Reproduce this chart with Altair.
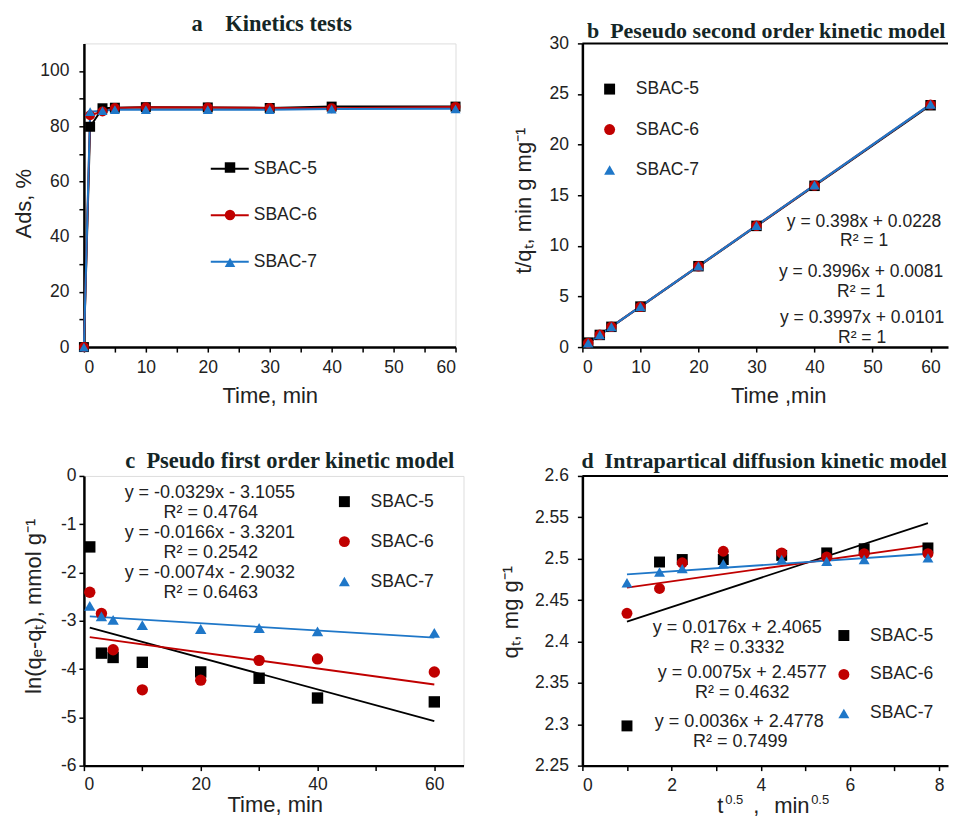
import altair as alt
import pandas as pd

SERIES = ["SBAC-5", "SBAC-6", "SBAC-7"]
COLORS = ["#000000", "#c00000", "#1f77c8"]
SHAPES = ["square", "circle", "triangle-up"]

# ---- (a) kinetics tests
T_A = [0, 1, 3, 5, 10, 20, 30, 40, 60]
ADS_5 = [0, 79.8, 86.5, 86.7, 86.9, 86.8, 86.6, 87.1, 87.1]
ADS_6 = [0, 84.0, 85.3, 86.6, 86.9, 86.8, 86.6, 86.5, 87.0]
ADS_7 = [0, 85.3, 85.6, 86.0, 86.0, 86.0, 86.0, 86.2, 86.3]

# ---- (b) pseudo second order
T_B = [1, 3, 5, 10, 20, 30, 40, 60]
TQ_5 = [0.44, 1.20, 2.00, 4.00, 7.99, 11.97, 15.93, 23.89]
TQ_6 = [0.41, 1.22, 2.00, 3.99, 7.98, 11.99, 15.96, 23.95]
TQ_7 = [0.40, 1.21, 2.01, 4.01, 8.01, 12.01, 16.01, 23.99]
FIT_T = [1, 60]
FIT_B_5 = [0.42, 23.90]
FIT_B_6 = [0.41, 23.98]
FIT_B_7 = [0.41, 23.99]
EQ_B = ["y = 0.398x + 0.0228", "R² = 1", "y = 0.3996x + 0.0081", "R² = 1",
        "y = 0.3997x + 0.0101", "R² = 1"]

# ---- (c) pseudo first order
LN_5 = [-1.47, -3.67, -3.76, -3.86, -4.06, -4.19, -4.60, -4.68]
LN_6 = [-2.41, -2.85, -3.60, -4.43, -4.23, -3.82, -3.79, -4.06]
LN_7 = [-2.69, -2.91, -2.98, -3.09, -3.17, -3.15, -3.22, -3.25]
FIT_C_5 = [-3.14, -5.08]
FIT_C_6 = [-3.34, -4.32]
FIT_C_7 = [-2.91, -3.35]
EQ_C = ["y = -0.0329x - 3.1055", "R² = 0.4764", "y = -0.0166x - 3.3201", "R² = 0.2542",
        "y = -0.0074x - 2.9032", "R² = 0.6463"]

# ---- (d) intraparticle diffusion
SQRT_T = [1.0, 1.73, 2.24, 3.16, 4.47, 5.48, 6.32, 7.75]
QT_5 = [2.298, 2.496, 2.499, 2.499, 2.504, 2.507, 2.512, 2.513]
QT_6 = [2.434, 2.464, 2.495, 2.509, 2.507, 2.502, 2.506, 2.506]
QT_7 = [2.471, 2.484, 2.488, 2.494, 2.499, 2.497, 2.499, 2.501]
FIT_SQRT_T = [1.0, 7.75]
FIT_D_5 = [2.424, 2.543]
FIT_D_6 = [2.465, 2.516]
FIT_D_7 = [2.481, 2.506]
EQ_D = ["y = 0.0176x + 2.4065", "R² = 0.3332", "y = 0.0075x + 2.4577", "R² = 0.4632",
        "y = 0.0036x + 2.4778", "R² = 0.7499"]

NB = "\u00a0"
TITLES = ["a" + NB * 3 + " Kinetics tests", "b" + NB + " Peseudo second order kinetic model",
          "c" + NB + " Pseudo first order kinetic model",
          "d" + NB + " Intrapartical diffusion kinetic model"]
D_XTITLE = ["t", "0.5", ",", "min", "0.5"]

TICKS_A_X = [0, 5, 10, 15, 20, 25, 30, 35, 40, 45, 50, 55, 60]
TICKS_A_Y = [0, 10, 20, 30, 40, 50, 60, 70, 80, 90, 100]
TICKS_B_X = [0, 10, 20, 30, 40, 50, 60]
TICKS_B_Y = [0, 5, 10, 15, 20, 25, 30]
TICKS_C_X = [0, 10, 20, 30, 40, 50, 60]
TICKS_C_Y = [-6, -5, -4, -3, -2, -1, 0]
TICKS_D_X = [0, 1, 2, 3, 4, 5, 6, 7, 8]
TICKS_D_Y = [2.25, 2.3, 2.35, 2.4, 2.45, 2.5, 2.55, 2.6]

FONT = "Liberation Sans"
SERIF = "Liberation Serif"
INK = "#222222"
TITLE_INK = "#142626"
ONE = pd.DataFrame({"k": [0]})


def long_df(xs, ys_list):
    rows = []
    for name, ys in zip(SERIES, ys_list):
        for xv, yv in zip(xs, ys):
            rows.append({"x": xv, "y": yv, "sample": name, "sample_l": name})
    return pd.DataFrame(rows)


def axis(title, values, label_expr, title_x, title_y, label_padding, vertical):
    kw = dict(values=values, labelExpr=label_expr, grid=False,
              domainColor="black", domainWidth=2.5, tickColor="black", tickWidth=1.5,
              tickSize=5, labelFont=FONT, labelFontSize=17.5, labelColor=INK,
              labelPadding=label_padding)
    if title is None:
        kw["title"] = None
    else:
        kw.update(title=title, titleFont=FONT, titleFontSize=22, titleFontWeight="normal",
                  titleColor=INK, titleX=title_x, titleY=title_y, titleBaseline="middle",
                  titleAlign="center")
        if vertical:
            kw["titleAngle"] = 270
    return alt.Axis(**kw)


def marker_legend(lx, ly, row_pad, size=120, label_expr="datum.label", label_offset=17.5):
    return alt.Legend(title=None, orient="none", legendX=lx, legendY=ly, padding=0,
                      labelFont=FONT, labelFontSize=17.5, labelColor=INK,
                      labelOffset=label_offset, rowPadding=row_pad, symbolSize=size,
                      symbolStrokeWidth=0, labelExpr=label_expr)


def enc_xy(x_dom, y_dom, x_axis, y_axis):
    x = alt.X("x:Q", scale=alt.Scale(domain=x_dom, nice=False, zero=False), axis=x_axis)
    y = alt.Y("y:Q", scale=alt.Scale(domain=y_dom, nice=False, zero=False), axis=y_axis)
    return x, y


def points(df, x, y, legend, size):
    return alt.Chart(df).mark_point(filled=True, size=size, opacity=1).encode(
        x=x, y=y,
        color=alt.Color("sample:N", scale=alt.Scale(domain=SERIES, range=COLORS), legend=legend),
        shape=alt.Shape("sample:N", scale=alt.Scale(domain=SERIES, range=SHAPES), legend=legend),
    )


def fit_lines(xs, ys_list, x, y, width=1.8):
    out = []
    for color, ys in zip(COLORS, ys_list):
        df = pd.DataFrame({"x": xs, "y": ys})
        out.append(alt.Chart(df).mark_line(color=color, strokeWidth=width).encode(x=x, y=y))
    return out


def label(text, px, py, size=18, align="center", baseline="middle"):
    return alt.Chart(ONE).mark_text(
        text=text, font=FONT, fontSize=size, color=INK, align=align, baseline=baseline
    ).encode(x=alt.value(px), y=alt.value(py))


def panel_title(text, px, py, size=22.5):
    return alt.Chart(ONE).mark_text(
        text=text, font=SERIF, fontSize=size, fontWeight="bold", color=TITLE_INK,
        align="center", baseline="alphabetic"
    ).encode(x=alt.value(px), y=alt.value(py))


def top_border(width):
    return alt.Chart(ONE).mark_rule(color="black", strokeWidth=2).encode(
        x=alt.value(0), x2=alt.value(width), y=alt.value(0))


# ================= panel a
WA, HA = 372, 304
xa, ya = enc_xy([0, 60], [0, 110],
                axis("Time, min", TICKS_A_X, "datum.value % 10 == 0 ? datum.label : ''",
                     WA / 2, 48, 6, False),
                axis("Ads, %", TICKS_A_Y, "datum.value % 20 == 0 ? datum.label : ''",
                     -60, 160, 10, True))
df_a = long_df(T_A, [ADS_5, ADS_6, ADS_7])
lines_a = alt.Chart(df_a).mark_line(strokeWidth=2).encode(
    x=xa, y=ya,
    stroke=alt.Stroke("sample_l:N", scale=alt.Scale(range=COLORS),
                      legend=alt.Legend(title=None, orient="none", legendX=126, legendY=105.5,
                                        padding=0, labelFont=FONT, labelFontSize=17.5,
                                        labelColor=INK, labelOffset=4, rowPadding=17.5,
                                        symbolType="stroke", symbolSize=1444,
                                        symbolStrokeWidth=2)),
)
pts_a = points(df_a, xa, ya, marker_legend(137.5, 115.5, 28.5, size=110, label_expr="''"), 100)
panel_a = alt.layer(lines_a, pts_a, panel_title(TITLES[0], 188, -12)).properties(
    width=WA, height=HA)

# ================= panel b
WB, HB = 366, 304
xb, yb = enc_xy([0, 63], [0, 30],
                axis("Time ,min", TICKS_B_X, "datum.label", 196, 48, 6, False),
                axis("t/qₜ, min g mg⁻¹", TICKS_B_Y, "datum.label", -59, 157, 9, True))
df_b = long_df(T_B, [TQ_5, TQ_6, TQ_7])
b_layers = [top_border(WB)] + fit_lines(FIT_T, [FIT_B_5, FIT_B_6, FIT_B_7], xb, yb, 2.2)
b_layers += [points(df_b, xb, yb, marker_legend(18.5, 37, 21.5), 110),
             panel_title(TITLES[1], 184, -5, 22)]
b_pos = [(282, 179), (282, 198), (279, 229), (279, 249), (280, 275), (280, 295)]
b_layers += [label(t, px, py, size=17.5) for t, (px, py) in zip(EQ_B, b_pos)]
panel_b = alt.layer(*b_layers).properties(width=WB, height=HB,
                                          view=alt.ViewBackground(strokeOpacity=0))

# ================= panel c
WC, HC = 380, 290
xc, yc = enc_xy([0, 65], [-6, 0],
                axis("Time, min", TICKS_C_X, "datum.value % 20 == 0 ? '' + datum.value : ''",
                     191, 39, 5, False),
                axis("ln(qₑ-qₜ), mmol g⁻¹", TICKS_C_Y, "'' + datum.value", -50, 130, 3, True))
df_c = long_df(T_B, [LN_5, LN_6, LN_7])
c_layers = fit_lines(FIT_T, [FIT_C_5, FIT_C_6, FIT_C_7], xc, yc)
c_layers += [points(df_c, xc, yc, marker_legend(252, 17, 21), 130),
             panel_title(TITLES[2], 206, -7.5)]
c_pos = [(126, 17), (127, 37), (126, 57), (127, 77), (126, 97), (127, 117)]
c_layers += [label(t, px, py) for t, (px, py) in zip(EQ_C, c_pos)]
panel_c = alt.layer(*c_layers).properties(width=WC, height=HC)

# ================= panel d
WD, HD = 366, 290
xd, yd = enc_xy([0, 8.2], [2.25, 2.6],
                axis(None, TICKS_D_X, "datum.value % 2 == 0 ? '' + datum.value : ''",
                     0, 0, 6, False),
                axis("qₜ, mg g⁻¹", TICKS_D_Y, "'' + datum.value", -72, 136, 9, True))
df_d = long_df(SQRT_T, [QT_5, QT_6, QT_7])
d_layers = [top_border(WD)] + fit_lines(FIT_SQRT_T, [FIT_D_5, FIT_D_6, FIT_D_7], xd, yd)
d_layers += [points(df_d, xd, yd, marker_legend(253, 151, 20), 120),
             panel_title(TITLES[3], 182, -7.5, 22)]
d_pos = [(155, 152), (155, 172), (160, 197), (160, 217), (157, 246), (158, 266)]
d_layers += [label(t, px, py) for t, (px, py) in zip(EQ_D, d_pos)]
# x-axis title with superscripts
xt_specs = [(135, HD + 47, 22), (143, HD + 38, 13), (171, HD + 47, 22),
            (192, HD + 47, 22), (229, HD + 38, 13)]
d_layers += [label(t, px, py, size=s, align="left", baseline="alphabetic")
             for t, (px, py, s) in zip(D_XTITLE, xt_specs)]
panel_d = alt.layer(*d_layers).properties(width=WD, height=HD,
                                          view=alt.ViewBackground(strokeOpacity=0))

chart = alt.concat(panel_a, panel_b, panel_c, panel_d, columns=2,
                   spacing=alt.RowColnumber(row=129, column=119),
                   bounds="flush", align="each").resolve_scale(
    color="independent", shape="independent", stroke="independent"
).properties(
    padding={"left": 4, "top": 4, "right": 0, "bottom": 0}
).configure_view(stroke="black", strokeWidth=2).configure(font=FONT)

chart.save("out.html", embed_options={"renderer": "svg", "actions": False})
